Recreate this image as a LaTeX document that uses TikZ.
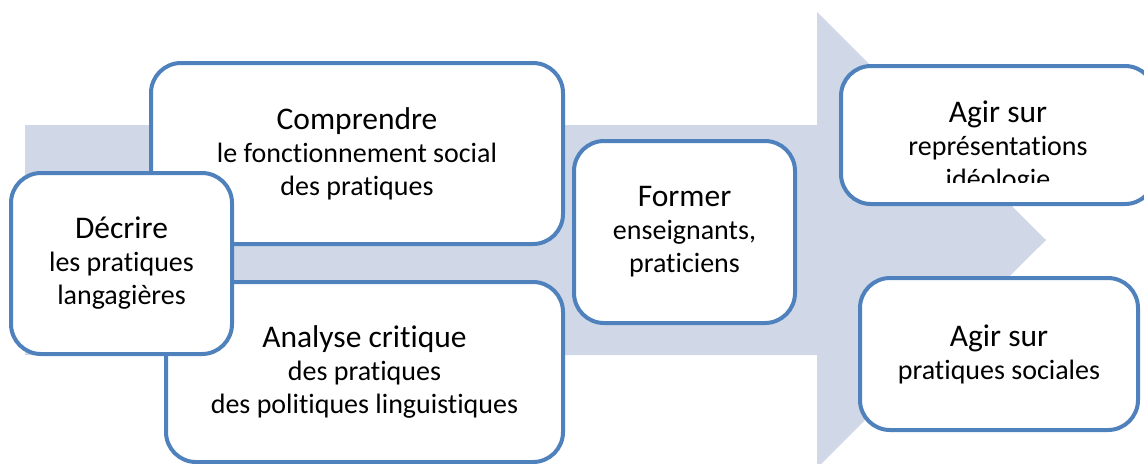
\documentclass[tikz,border=0pt]{standalone}
\usepackage{fontspec}
\setmainfont{Carlito}[Ligatures=NoCommon]
\usepackage{xcolor}
\definecolor{boxblue}{HTML}{4F81BD}
\definecolor{arrowfill}{HTML}{D0D8E8}
\newcommand{\boxtitle}[1]{{\fontsize{15.75}{17}\selectfont #1}}

\begin{document}
\begin{tikzpicture}[x=0.5pt,y=-0.5pt,
	box/.style={draw=boxblue, line width=2pt, fill=white, rounded corners=15pt, align=center,
		font=\fontsize{14}{16.5}\selectfont},
	txt/.style={align=center, font=\fontsize{14}{16.5}\selectfont}]
	% page
	\clip (0,0) rectangle (1144,463);
	% draw arrow
	\fill[arrowfill] (25,125) -- (817,125) -- (817,12) -- (1046,240) -- (817,468) -- (817,355) -- (25,355) -- cycle;
	% draw boxes
	\node[box, minimum width=206pt, minimum height=90.5pt] (comprendre) at (357,153.5) {\boxtitle{Comprendre}\\le fonctionnement social\\des pratiques};
	\node[box, minimum width=198.5pt, minimum height=90pt] (analyse) at (364.5,372) {\boxtitle{Analyse critique}\\des pratiques\\des politiques linguistiques};
	\node[box, minimum width=110.5pt, minimum height=90.5pt] (decrire) at (121.5,263.5) {\boxtitle{Décrire}\\les pratiques\\langagières};
	\node[box, minimum width=110.5pt, minimum height=91pt] (former) at (684.5,232) {\boxtitle{Former}\\enseignants,\\praticiens};
	\node[box, minimum width=157pt, minimum height=69pt] (agirrep) at (998,135) {};
	\node[box, minimum width=139pt, minimum height=76pt] (agirpra) at (999,354) {\boxtitle{Agir sur}\\pratiques sociales};
	% text of the upper right box, cut off
	\begin{scope}
		\clip (841,66) rectangle (1144,182);
		\node[txt] (agirreptxt) at (998,147) {\boxtitle{Agir sur}\\représentations\\idéologie};
	\end{scope}
\end{tikzpicture}
\end{document}
